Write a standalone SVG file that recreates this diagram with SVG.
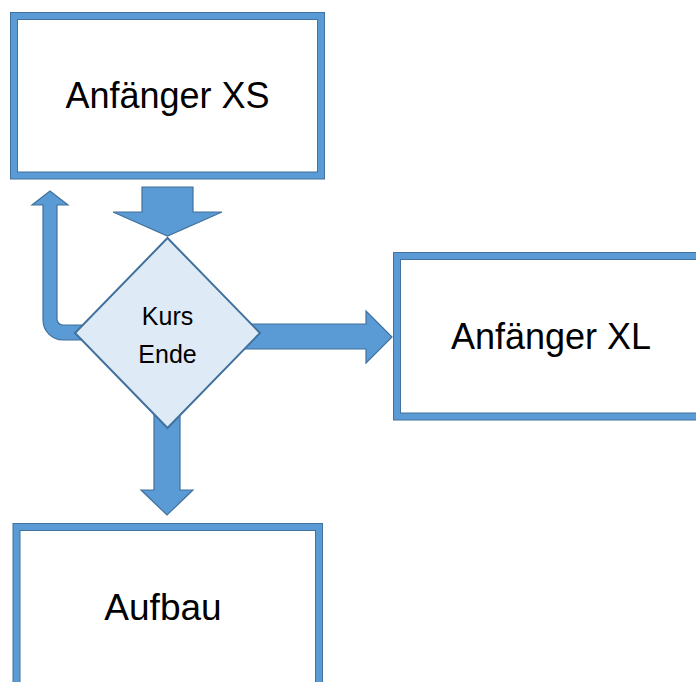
<svg xmlns="http://www.w3.org/2000/svg" width="696" height="682" viewBox="0 0 696 682">
<style>
.boxo{fill:#fff;stroke:#41719C;stroke-width:8}
.boxi{fill:none;stroke:#5B9BD5;stroke-width:6}
.arr{fill:#5B9BD5;stroke:#41719C;stroke-width:1.2;stroke-linejoin:miter}
.dia{fill:#DEEBF7;stroke:#41719C;stroke-width:2}
.t{font-family:"Liberation Sans",Arial,sans-serif;fill:#000;text-anchor:middle}
</style>
<rect width="696" height="682" fill="#fff"/>
<g id="connectors">
<path class="arr" d="M142,187 L193,187 L193,212 L222,212 L167.5,236 L113,212 L142,212 Z"/>
<path class="arr" d="M95,325 L63,325 A6,6 0 0 1 57,319 L57,205 L68,205 L50,191 L32,205 L43,205 L43,320 A20,20 0 0 0 63,340 L95,340 Z"/>
<path class="arr" d="M240,324 L366,324 L366,311 L392,337 L366,363 L366,349 L240,349 Z"/>
<path class="arr" d="M154,400 L180,400 L180,490 L193,490 L167,515 L141,490 L154,490 Z"/>
</g>
<g id="node-xs">
<rect class="boxo" x="14" y="16" width="307" height="159.5"/>
<rect class="boxi" x="14" y="16" width="307" height="159.5"/>
<text class="t" x="167.5" y="108" font-size="36">Anfänger XS</text>
</g>
<g id="node-kurs-ende">
<path class="dia" d="M167.5,238 L260,333 L167.5,428 L75,333 Z"/>
<text class="t" x="167.5" y="325" font-size="25">Kurs</text>
<text class="t" x="167.5" y="363" font-size="25">Ende</text>
</g>
<g id="node-xl">
<rect class="boxo" x="397" y="256" width="320" height="160.5"/>
<rect class="boxi" x="397" y="256" width="320" height="160.5"/>
<text class="t" x="551" y="349" font-size="36">Anfänger XL</text>
</g>
<g id="node-aufbau">
<rect class="boxo" x="16.5" y="527" width="302.5" height="180"/>
<rect class="boxi" x="16.5" y="527" width="302.5" height="180"/>
<text class="t" x="163" y="620" font-size="37">Aufbau</text>
</g>
</svg>
